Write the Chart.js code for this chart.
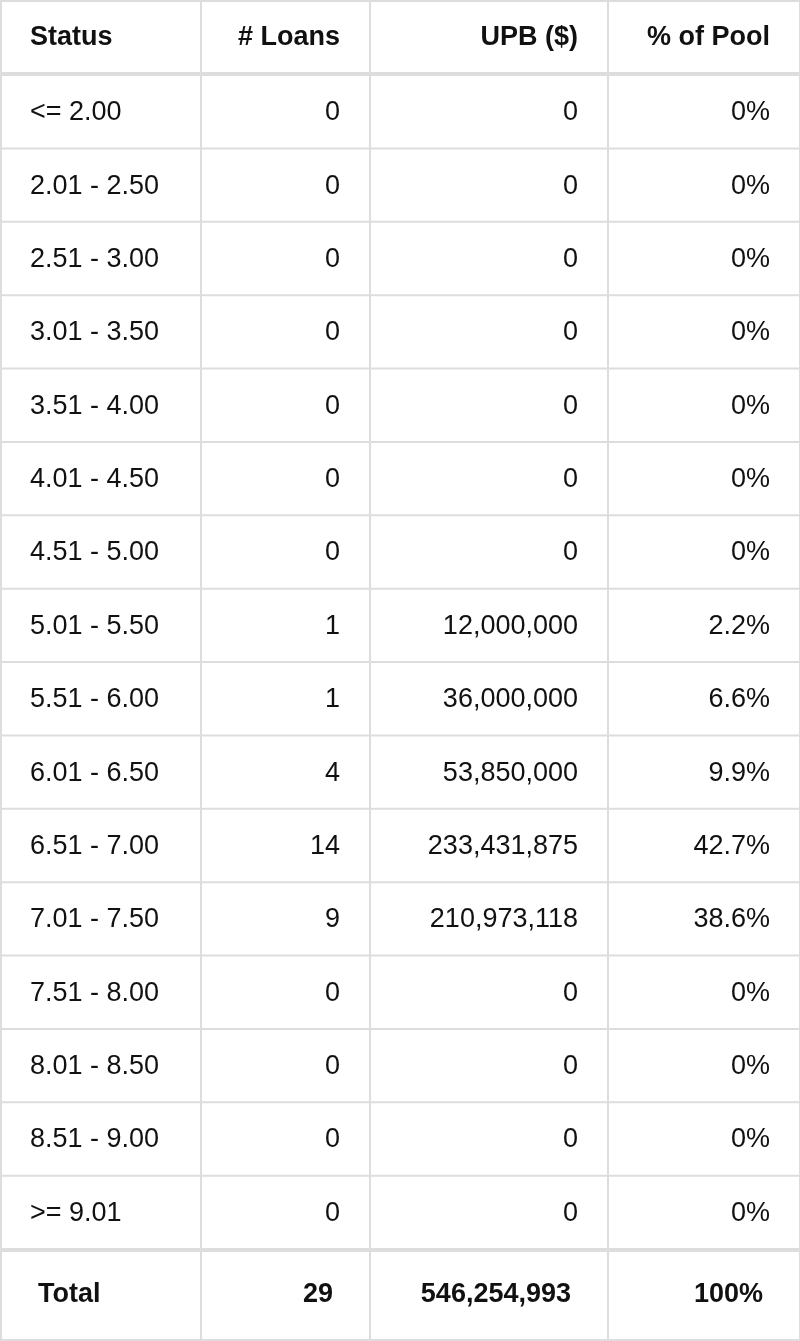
<!DOCTYPE html>
<html><head><meta charset="utf-8">
<script src="https://cdn.jsdelivr.net/npm/chart.js@4"></script>
<style>html,body{margin:0;padding:0;background:#fff}canvas{display:block}
#warm{position:absolute;left:-9999px;font-family:"Liberation Sans",Arimo,Arial,sans-serif}</style>
</head><body>
<div id="warm">0123456789 <b>Total</b></div>
<canvas id="c" width="800" height="1341"></canvas>
<script>
const headers = ["Status", "# Loans", "UPB ($)", "% of Pool"];
const statuses = ["<= 2.00","2.01 - 2.50","2.51 - 3.00","3.01 - 3.50","3.51 - 4.00","4.01 - 4.50","4.51 - 5.00","5.01 - 5.50","5.51 - 6.00","6.01 - 6.50","6.51 - 7.00","7.01 - 7.50","7.51 - 8.00","8.01 - 8.50","8.51 - 9.00",">= 9.01"];
const loans = [0,0,0,0,0,0,0,1,1,4,14,9,0,0,0,0];
const upb = ["0","0","0","0","0","0","0","12,000,000","36,000,000","53,850,000","233,431,875","210,973,118","0","0","0","0"];
const pct = ["0%","0%","0%","0%","0%","0%","0%","2.2%","6.6%","9.9%","42.7%","38.6%","0%","0%","0%","0%"];
const totalRow = ["Total","29","546,254,993","100%"];

const colEdges = [0,200,369,607,799];
const FONT = '"Liberation Sans", Arimo, Arial, sans-serif';

const tablePlugin = {
  id:'table',
  afterDraw(chart){
    const ctx = chart.ctx, ya = chart.scales.y, ca = chart.chartArea;
    const band = ya.getPixelForValue(1) - ya.getPixelForValue(0);
    const top = ca.top, bottom = ca.bottom;
    ctx.save();
    ctx.strokeStyle = '#dddddd';
    ctx.lineWidth = 2;
    colEdges.forEach(x=>{ctx.beginPath();ctx.moveTo(x+1,0);ctx.lineTo(x+1,1341);ctx.stroke();});
    ctx.beginPath();ctx.moveTo(0,1);ctx.lineTo(800,1);ctx.stroke();
    ctx.beginPath();ctx.moveTo(0,1340);ctx.lineTo(800,1340);ctx.stroke();
    for(let i=1;i<statuses.length;i++){
      const y = ya.getPixelForValue(i) - band/2;
      ctx.beginPath();ctx.moveTo(0,y);ctx.lineTo(800,y);ctx.stroke();
    }
    ctx.lineWidth = 4;
    ctx.beginPath();ctx.moveTo(0,top-1);ctx.lineTo(800,top-1);ctx.stroke();
    ctx.beginPath();ctx.moveTo(0,bottom+1);ctx.lineTo(800,bottom+1);ctx.stroke();
    ctx.fillStyle = '#111';
    ctx.textBaseline = 'middle';
    ctx.font = 'bold 27px '+FONT;
    const hy = top/2;
    ctx.textAlign='left'; ctx.fillText(headers[0],30,hy);
    ctx.textAlign='right';
    ctx.fillText(headers[1],colEdges[2]-29,hy);
    ctx.fillText(headers[2],colEdges[3]-29,hy);
    ctx.fillText(headers[3],colEdges[4]-29,hy);
    ctx.font = '27px '+FONT;
    statuses.forEach((s,i)=>{
      const y = ya.getPixelForValue(i)+1;
      ctx.textAlign='left'; ctx.fillText(s,30,y);
      ctx.textAlign='right';
      ctx.fillText(String(loans[i]),colEdges[2]-29,y);
      ctx.fillText(upb[i],colEdges[3]-29,y);
      ctx.fillText(pct[i],colEdges[4]-29,y);
    });
    ctx.font = 'bold 27px '+FONT;
    const ty = (bottom+1341)/2;
    ctx.textAlign='left'; ctx.fillText(totalRow[0],38,ty);
    ctx.textAlign='right';
    ctx.fillText(totalRow[1],colEdges[2]-36,ty);
    ctx.fillText(totalRow[2],colEdges[3]-36,ty);
    ctx.fillText(totalRow[3],colEdges[4]-36,ty);
    ctx.restore();
  }
};

const chart = new Chart(document.getElementById('c'),{
  type:'bar',
  data:{labels:statuses,datasets:[{data:loans,backgroundColor:'rgba(0,0,0,0)',borderWidth:0}]},
  options:{
    indexAxis:'y',responsive:false,animation:false,devicePixelRatio:1,
    layout:{padding:{top:75,bottom:92,left:0,right:0}},
    plugins:{legend:{display:false},tooltip:{enabled:false}},
    scales:{x:{display:false},y:{display:false}}
  },
  plugins:[tablePlugin]
});
if (document.fonts) {
  document.fonts.load('27px "Liberation Sans"').then(()=>chart.update()).catch(()=>{});
  document.fonts.ready.then(()=>chart.update());
}
</script>
</body></html>
